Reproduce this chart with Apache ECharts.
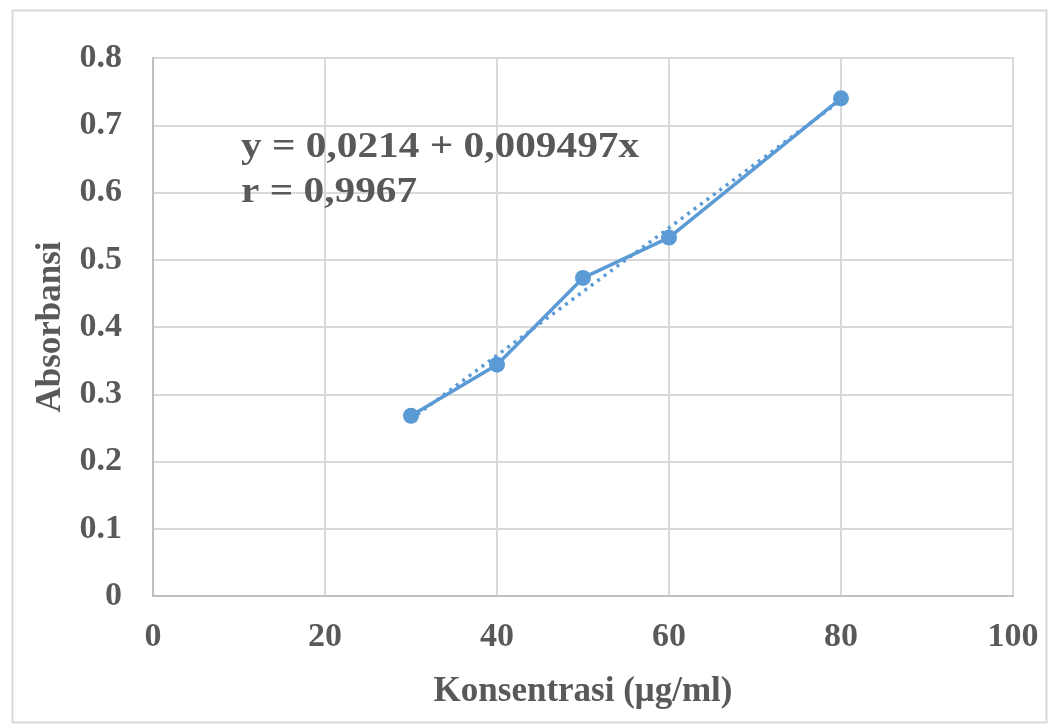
<!DOCTYPE html>
<html>
<head>
<meta charset="utf-8">
<script src="https://cdn.jsdelivr.net/npm/echarts@6/dist/echarts.min.js"></script>
<style>
html,body{margin:0;padding:0;background:#fff;}
#chart{width:1053px;height:724px;}
</style>
</head>
<body>
<div id="chart"></div>
<script>
// data
var konsentrasi = [30, 40, 50, 60, 80];
var absorbansi = [0.268, 0.344, 0.473, 0.533, 0.740];
// dotted linear trend, end points
var trendX = [30, 80];
var trendY = [0.263, 0.737];
var eqLines = ['y = 0,0214 + 0,009497x', 'r = 0,9967'];

var txtColor = '#595959';
var font = 'Liberation Serif';

var chart = echarts.init(document.getElementById('chart'));

var option = {
    backgroundColor: '#fff',
    animation: false,
    grid: {
        left: 153,
        top: 58,
        width: 860,
        height: 538,
        show: true,
        borderColor: '#d9d9d9',
        borderWidth: 2
    },
    xAxis: {
        type: 'value',
        min: 0,
        max: 100,
        interval: 20,
        name: 'Konsentrasi (μg/ml)',
        nameLocation: 'middle',
        nameGap: 78,
        nameTextStyle: {color: txtColor, fontFamily: font, fontWeight: 'bold', fontSize: 35},
        axisLine: {show: true, lineStyle: {color: '#bfbfbf', width: 2}},
        axisTick: {show: false},
        axisLabel: {color: txtColor, fontFamily: font, fontWeight: 'bold', fontSize: 34, margin: 24},
        splitLine: {show: true, lineStyle: {color: '#d9d9d9', width: 2}}
    },
    yAxis: {
        type: 'value',
        min: 0,
        max: 0.8,
        interval: 0.1,
        name: 'Absorbansi',
        nameLocation: 'middle',
        nameGap: 84,
        nameTextStyle: {color: txtColor, fontFamily: font, fontWeight: 'bold', fontSize: 35},
        axisLine: {show: true, lineStyle: {color: '#bfbfbf', width: 2}},
        axisTick: {show: false},
        axisLabel: {color: txtColor, fontFamily: font, fontWeight: 'bold', fontSize: 34, margin: 31},
        splitLine: {show: true, lineStyle: {color: '#d9d9d9', width: 2}}
    },
    graphic: [
        {
            type: 'rect',
            left: 10, top: 8,
            shape: {width: 1034, height: 712},
            style: {fill: 'none', stroke: '#d9d9d9', lineWidth: 2},
            silent: true
        },
        {
            type: 'text',
            x: 241, y: 125,
            scaleX: 1.18,
            z: 100,
            style: {
                text: eqLines.join('\n'),
                fill: txtColor,
                font: 'bold 35px "Liberation Serif"',
                lineHeight: 45
            }
        }
    ],
    series: [
        {
            type: 'line',
            data: trendX.map(function (x, i) { return [x, trendY[i]]; }),
            symbol: 'none',
            lineStyle: {color: '#5b9bd5', width: 3.5, type: [3, 5]},
            z: 2
        },
        {
            type: 'line',
            data: konsentrasi.map(function (x, i) { return [x, absorbansi[i]]; }),
            symbol: 'circle',
            symbolSize: 16,
            itemStyle: {color: '#5b9bd5'},
            lineStyle: {color: '#5b9bd5', width: 3.5},
            z: 3
        }
    ]
};

chart.setOption(option);
</script>
</body>
</html>
